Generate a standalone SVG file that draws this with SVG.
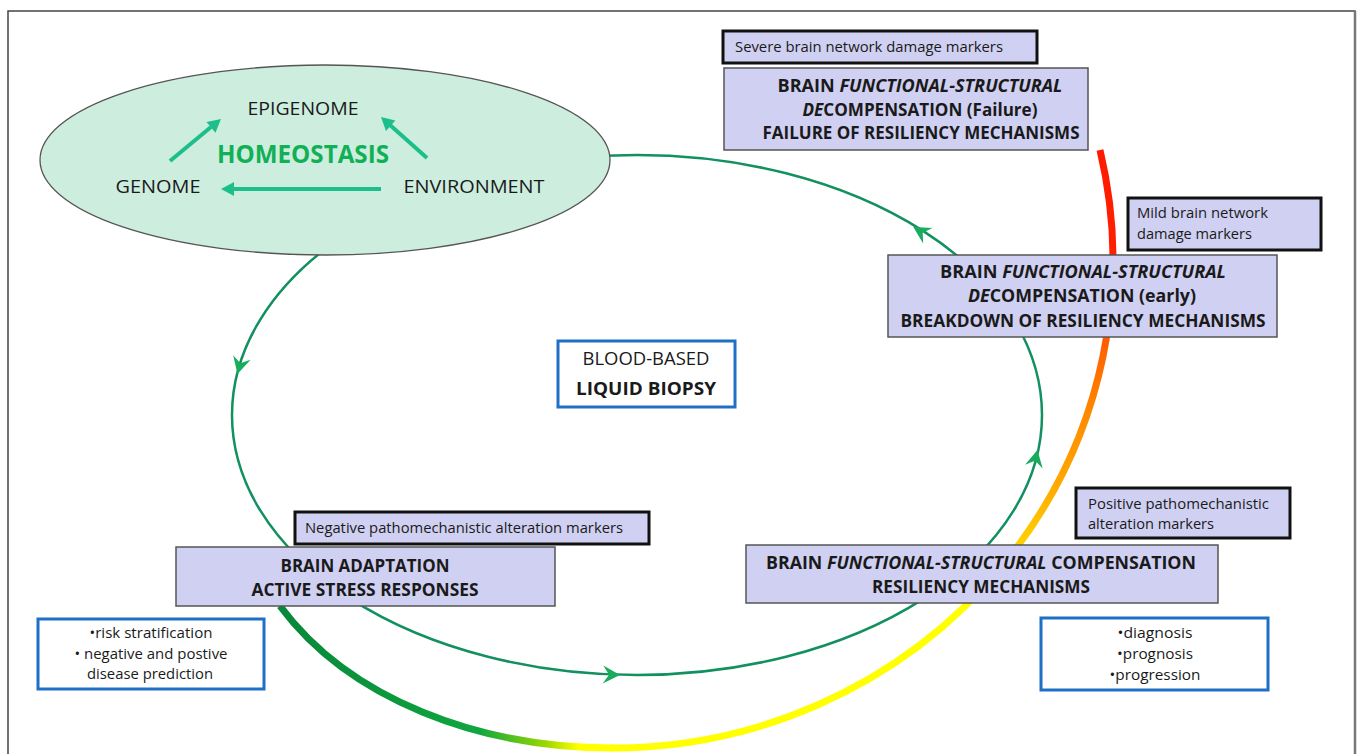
<svg xmlns="http://www.w3.org/2000/svg" xmlns:xlink="http://www.w3.org/1999/xlink" width="1358" height="754" viewBox="0 0 1358 754">
<style>
.t{font-family:"Open Sans","Noto Sans","Liberation Sans",sans-serif;fill:#1a1a1a}
.b{font-weight:bold;font-size:18px}
.s{font-size:14px}
.box{fill:#d0d0f2;stroke:#555;stroke-width:1.5}
.mk{fill:#d0d0f2;stroke:#111;stroke-width:3}
.blue{fill:#fff;stroke:#1f6fc8;stroke-width:3}
.loop{fill:none;stroke:#13905f;stroke-width:2.5}
.ha{stroke:#1cbf8b;stroke-width:4;fill:none}
</style>
<defs>
<path id="ah" d="M2 0 L-15 -9 L-9 0 L-15 9 Z" fill="#17ad5c"/>
<path id="hh" d="M0 0 L-13 -7 L-13 7 Z" fill="#1cbf8b"/>
<linearGradient id="g1" gradientUnits="userSpaceOnUse" x1="280" y1="0" x2="612" y2="0">
<stop offset="0" stop-color="#07873a"/>
<stop offset="0.6" stop-color="#10a640"/>
<stop offset="0.8" stop-color="#9ad800"/>
<stop offset="0.9" stop-color="#ffff00"/>
<stop offset="1" stop-color="#ffff00"/>
</linearGradient>
<linearGradient id="g2" gradientUnits="userSpaceOnUse" x1="0" y1="748" x2="0" y2="150">
<stop offset="0" stop-color="#ffff00"/>
<stop offset="0.24" stop-color="#ffff00"/>
<stop offset="0.34" stop-color="#ffd200"/>
<stop offset="0.45" stop-color="#ffa500"/>
<stop offset="0.56" stop-color="#ff8a00"/>
<stop offset="0.69" stop-color="#ff5a00"/>
<stop offset="0.83" stop-color="#ff2000"/>
<stop offset="1" stop-color="#ff1a00"/>
</linearGradient>
</defs>
<rect x="8" y="11" width="1347" height="800" fill="#fff" stroke="#444" stroke-width="1.5"/>
<line x1="1355" y1="11" x2="1355" y2="754" stroke="#777" stroke-width="2.5"/>

<g id="connectors">
<ellipse class="loop" cx="637" cy="415" rx="405" ry="260"/>
<path d="M280 606 C350 700 480 748 613 748" fill="none" stroke="url(#g1)" stroke-width="7"/>
<path d="M611 748 A501 488 0 0 0 1100 150" fill="none" stroke="url(#g2)" stroke-width="7"/>
<use xlink:href="#ah" transform="translate(915,228) rotate(-148.8)"/>
<use xlink:href="#ah" transform="translate(1037,452) rotate(-78)"/>
<use xlink:href="#ah" transform="translate(618,675) rotate(2)"/>
<use xlink:href="#ah" transform="translate(238,372) rotate(105)"/>
</g>

<g id="homeostasis">
<ellipse cx="325" cy="160" rx="285" ry="95" fill="#cdeedf" stroke="#555" stroke-width="1.3"/>
<text class="t" x="303" y="115" font-size="19" text-anchor="middle" textLength="111" lengthAdjust="spacingAndGlyphs">EPIGENOME</text>
<text class="t" x="158" y="193" font-size="19" text-anchor="middle" textLength="85" lengthAdjust="spacingAndGlyphs">GENOME</text>
<text class="t" x="474" y="193" font-size="19" text-anchor="middle" textLength="141" lengthAdjust="spacingAndGlyphs">ENVIRONMENT</text>
<text class="t" x="303" y="163" font-size="25" font-weight="bold" text-anchor="middle" textLength="172" lengthAdjust="spacingAndGlyphs" style="fill:#12b056">HOMEOSTASIS</text>
<line class="ha" x1="170" y1="161" x2="211" y2="127"/>
<use xlink:href="#hh" transform="translate(221,119) rotate(-39.7)"/>
<line class="ha" x1="427" y1="158" x2="390" y2="125"/>
<use xlink:href="#hh" transform="translate(381,117) rotate(-138)"/>
<line class="ha" x1="381" y1="189" x2="232" y2="189"/>
<use xlink:href="#hh" transform="translate(221,189) rotate(180)"/>
</g>

<g id="severe-markers">
<rect class="mk" x="723" y="31" width="314" height="32"/>
<text class="t s" x="735" y="52" textLength="268" lengthAdjust="spacingAndGlyphs">Severe brain network  damage markers</text>
</g>

<g id="failure">
<rect class="box" x="724" y="68" width="364" height="82"/>
<text class="t b" x="920" y="92" text-anchor="middle" textLength="285" lengthAdjust="spacingAndGlyphs">BRAIN <tspan font-style="italic">FUNCTIONAL-STRUCTURAL</tspan></text>
<text class="t b" x="920" y="116" text-anchor="middle" textLength="235" lengthAdjust="spacingAndGlyphs"><tspan font-style="italic">DE</tspan>COMPENSATION (Failure)</text>
<text class="t b" x="921" y="139" text-anchor="middle" textLength="317" lengthAdjust="spacingAndGlyphs">FAILURE OF RESILIENCY MECHANISMS</text>
</g>

<g id="mild-markers">
<rect class="mk" x="1128" y="198" width="193" height="52"/>
<text class="t s" x="1137" y="218" textLength="131" lengthAdjust="spacingAndGlyphs">Mild brain network</text>
<text class="t s" x="1137" y="239" textLength="115" lengthAdjust="spacingAndGlyphs">damage markers</text>
</g>

<g id="early">
<rect class="box" x="888" y="255" width="389" height="82"/>
<text class="t b" x="1083" y="278" text-anchor="middle" textLength="286" lengthAdjust="spacingAndGlyphs">BRAIN <tspan font-style="italic">FUNCTIONAL-STRUCTURAL</tspan></text>
<text class="t b" x="1082" y="302" text-anchor="middle" textLength="228" lengthAdjust="spacingAndGlyphs"><tspan font-style="italic">DE</tspan>COMPENSATION  (early)</text>
<text class="t b" x="1083" y="327" text-anchor="middle" textLength="365" lengthAdjust="spacingAndGlyphs">BREAKDOWN OF RESILIENCY MECHANISMS</text>
</g>

<g id="biopsy">
<rect class="blue" x="558" y="341" width="177" height="66"/>
<text class="t" x="646" y="365" font-size="18" text-anchor="middle" textLength="127" lengthAdjust="spacingAndGlyphs">BLOOD-BASED</text>
<text class="t b" x="646" y="395" text-anchor="middle" textLength="140" lengthAdjust="spacingAndGlyphs">LIQUID BIOPSY</text>
</g>

<g id="negative-markers">
<rect class="mk" x="295" y="512" width="354" height="32"/>
<text class="t s" x="305" y="533" textLength="318" lengthAdjust="spacingAndGlyphs">Negative pathomechanistic alteration markers</text>
</g>

<g id="adaptation">
<rect class="box" x="176" y="547" width="379" height="59"/>
<text class="t b" x="365" y="572" text-anchor="middle" textLength="169" lengthAdjust="spacingAndGlyphs">BRAIN ADAPTATION</text>
<text class="t b" x="365" y="596" text-anchor="middle" textLength="227" lengthAdjust="spacingAndGlyphs">ACTIVE STRESS RESPONSES</text>
</g>

<g id="risk">
<rect class="blue" x="38" y="619" width="226" height="70"/>
<text class="t s" x="151" y="638" text-anchor="middle" textLength="123" lengthAdjust="spacingAndGlyphs">•risk stratification</text>
<text class="t s" x="151" y="659" text-anchor="middle" textLength="153" lengthAdjust="spacingAndGlyphs">• negative and postive</text>
<text class="t s" x="150" y="679" text-anchor="middle" textLength="126" lengthAdjust="spacingAndGlyphs">disease prediction</text>
</g>

<g id="positive-markers">
<rect class="mk" x="1076" y="488" width="214" height="50"/>
<text class="t s" x="1088" y="509" textLength="181" lengthAdjust="spacingAndGlyphs">Positive pathomechanistic</text>
<text class="t s" x="1088" y="529" textLength="126" lengthAdjust="spacingAndGlyphs">alteration markers</text>
</g>

<g id="compensation">
<rect class="box" x="746" y="545" width="472" height="58"/>
<text class="t b" x="981" y="569" text-anchor="middle" textLength="430" lengthAdjust="spacingAndGlyphs">BRAIN <tspan font-style="italic">FUNCTIONAL-STRUCTURAL</tspan>  COMPENSATION</text>
<text class="t b" x="981" y="593" text-anchor="middle" textLength="218" lengthAdjust="spacingAndGlyphs">RESILIENCY MECHANISMS</text>
</g>

<g id="diagnosis">
<rect class="blue" x="1041" y="618" width="227" height="72"/>
<text class="t s" x="1155" y="638" text-anchor="middle" textLength="75" lengthAdjust="spacingAndGlyphs">•diagnosis</text>
<text class="t s" x="1155" y="659" text-anchor="middle" textLength="76" lengthAdjust="spacingAndGlyphs">•prognosis</text>
<text class="t s" x="1155" y="680" text-anchor="middle" textLength="91" lengthAdjust="spacingAndGlyphs">•progression</text>
</g>
</svg>
